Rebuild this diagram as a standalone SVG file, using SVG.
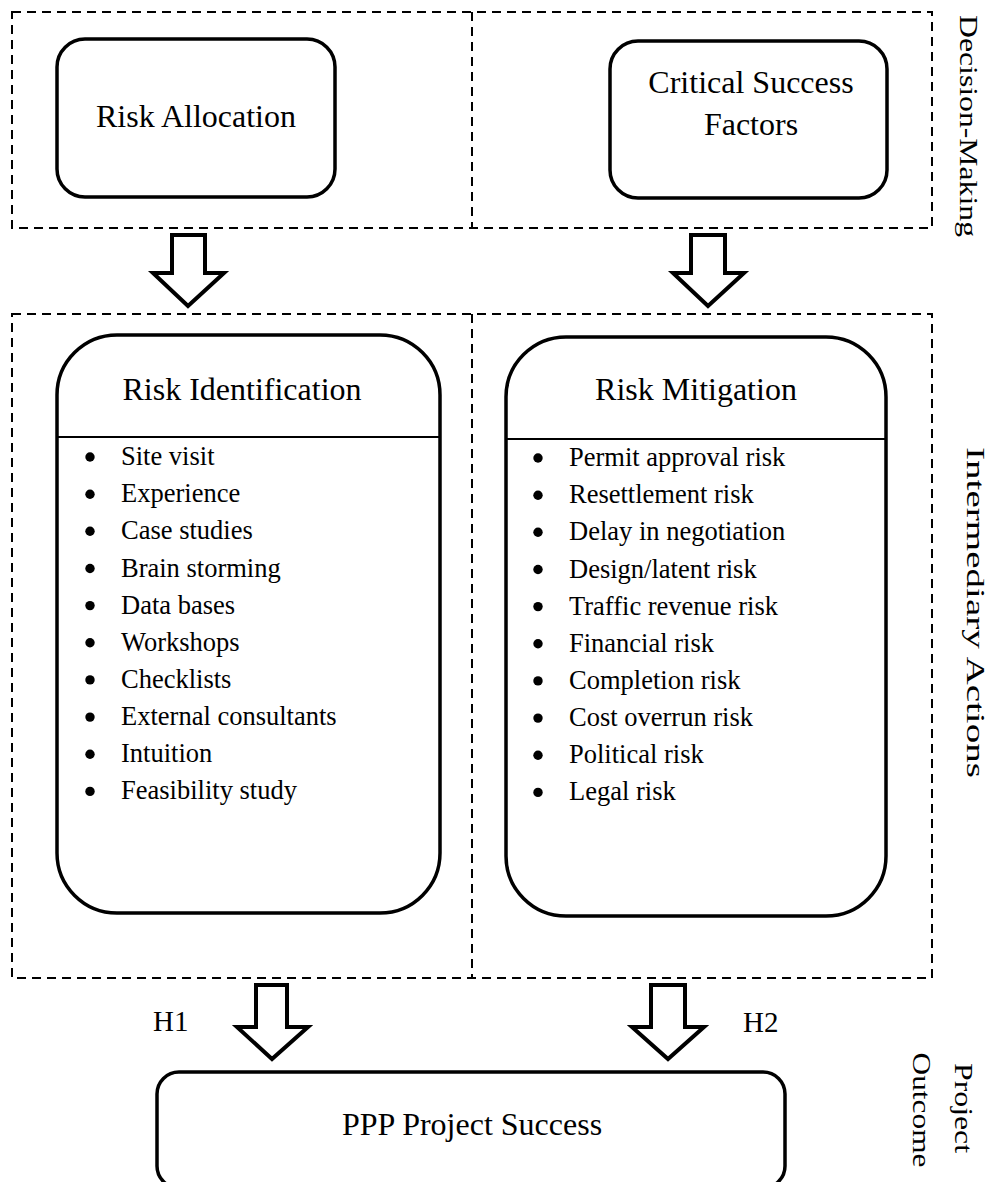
<svg xmlns="http://www.w3.org/2000/svg" width="996" height="1182" viewBox="0 0 996 1182">
  <style>
    text { font-family: "Liberation Serif", "Times New Roman", serif; fill: #000; }
    .lane { fill: none; stroke: #000; stroke-width: 2; stroke-dasharray: 9 6; }
    .box { fill: #fff; stroke: #000; stroke-width: 3.5; }
    .rule { stroke: #000; stroke-width: 2; }
    .title { font-size: 32px; text-anchor: middle; }
    .item { font-size: 26.5px; }
    .side { font-size: 26px; }
    .hyp { font-size: 29px; }
    .block { fill: #fff; stroke: #000; stroke-width: 4; stroke-linejoin: miter; }
    .dot { fill: #000; }
  </style>

  <!-- dashed bands -->
  <g id="band-decision">
    <rect class="lane" x="12" y="12" width="920" height="216"/>
    <line class="lane" x1="472" y1="12" x2="472" y2="228"/>
    <text class="side" transform="translate(960,15) rotate(90)" font-size="30" textLength="222" lengthAdjust="spacingAndGlyphs">Decision-Making</text>
  </g>
  <g id="band-actions">
    <rect class="lane" x="12" y="314" width="920" height="664"/>
    <line class="lane" x1="472" y1="314" x2="472" y2="978"/>
    <text class="side" transform="translate(967,447) rotate(90)" font-size="25" textLength="331" lengthAdjust="spacingAndGlyphs">Intermediary Actions</text>
  </g>
  <g id="band-outcome">
    <text class="side" transform="translate(955,1108) rotate(90)" text-anchor="middle" font-size="25" textLength="90" lengthAdjust="spacingAndGlyphs">Project</text>
    <text class="side" transform="translate(913,1110) rotate(90)" text-anchor="middle" font-size="25" textLength="115" lengthAdjust="spacingAndGlyphs">Outcome</text>
  </g>

  <!-- top row -->
  <g id="risk-allocation">
    <rect class="box" x="57" y="39" width="278" height="158" rx="28"/>
    <text class="title" x="196" y="127">Risk Allocation</text>
  </g>
  <g id="critical-success-factors">
    <rect class="box" x="610" y="41" width="277" height="157" rx="28"/>
    <text class="title" x="751" y="93">Critical Success</text>
    <text class="title" x="751" y="135">Factors</text>
  </g>

  <!-- middle row -->
  <g id="risk-identification">
    <rect class="box" x="57" y="335" width="383" height="578" rx="60"/>
    <line class="rule" x1="57" y1="437" x2="440" y2="437"/>
    <text class="title" x="242" y="400">Risk Identification</text>
    <g class="item">
      <circle class="dot" cx="90" cy="457" r="4.7"/><text x="121" y="465">Site visit</text>
      <circle class="dot" cx="90" cy="494.2" r="4.7"/><text x="121" y="502.2">Experience</text>
      <circle class="dot" cx="90" cy="531.3" r="4.7"/><text x="121" y="539.3">Case studies</text>
      <circle class="dot" cx="90" cy="568.5" r="4.7"/><text x="121" y="576.5">Brain storming</text>
      <circle class="dot" cx="90" cy="605.6" r="4.7"/><text x="121" y="613.6">Data bases</text>
      <circle class="dot" cx="90" cy="642.8" r="4.7"/><text x="121" y="650.8">Workshops</text>
      <circle class="dot" cx="90" cy="679.9" r="4.7"/><text x="121" y="687.9">Checklists</text>
      <circle class="dot" cx="90" cy="717.1" r="4.7"/><text x="121" y="725.1">External consultants</text>
      <circle class="dot" cx="90" cy="754.2" r="4.7"/><text x="121" y="762.2">Intuition</text>
      <circle class="dot" cx="90" cy="791.4" r="4.7"/><text x="121" y="799.4">Feasibility study</text>
    </g>
  </g>
  <g id="risk-mitigation">
    <rect class="box" x="506" y="337" width="380" height="579" rx="60"/>
    <line class="rule" x1="506" y1="439" x2="886" y2="439"/>
    <text class="title" x="696" y="400">Risk Mitigation</text>
    <g class="item">
      <circle class="dot" cx="538" cy="458" r="4.7"/><text x="569" y="466">Permit approval risk</text>
      <circle class="dot" cx="538" cy="495.2" r="4.7"/><text x="569" y="503.2">Resettlement risk</text>
      <circle class="dot" cx="538" cy="532.3" r="4.7"/><text x="569" y="540.3">Delay in negotiation</text>
      <circle class="dot" cx="538" cy="569.5" r="4.7"/><text x="569" y="577.5">Design/latent risk</text>
      <circle class="dot" cx="538" cy="606.6" r="4.7"/><text x="569" y="614.6">Traffic revenue risk</text>
      <circle class="dot" cx="538" cy="643.8" r="4.7"/><text x="569" y="651.8">Financial risk</text>
      <circle class="dot" cx="538" cy="680.9" r="4.7"/><text x="569" y="688.9">Completion risk</text>
      <circle class="dot" cx="538" cy="718.1" r="4.7"/><text x="569" y="726.1">Cost overrun risk</text>
      <circle class="dot" cx="538" cy="755.2" r="4.7"/><text x="569" y="763.2">Political risk</text>
      <circle class="dot" cx="538" cy="792.4" r="4.7"/><text x="569" y="800.4">Legal risk</text>
    </g>
  </g>

  <!-- outcome -->
  <g id="ppp-project-success">
    <rect class="box" x="157" y="1072" width="628" height="116" rx="22"/>
    <text class="title" x="472" y="1135">PPP Project Success</text>
  </g>

  <!-- block arrows -->
  <g id="connectors">
    <path class="block" d="M172 235 H205 V273 H224 L188 306 L153 273 H172 Z"/>
    <path class="block" d="M691 235 H725 V273 H744 L708 306 L673 273 H691 Z"/>
    <path class="block" d="M256 985 H287 V1027 H308 L272 1059 L237 1027 H256 Z"/>
    <path class="block" d="M651 985 H685 V1027 H704 L668 1059 L632 1027 H651 Z"/>
    <text class="hyp" x="153" y="1031">H1</text>
    <text class="hyp" x="743" y="1032">H2</text>
  </g>
</svg>
